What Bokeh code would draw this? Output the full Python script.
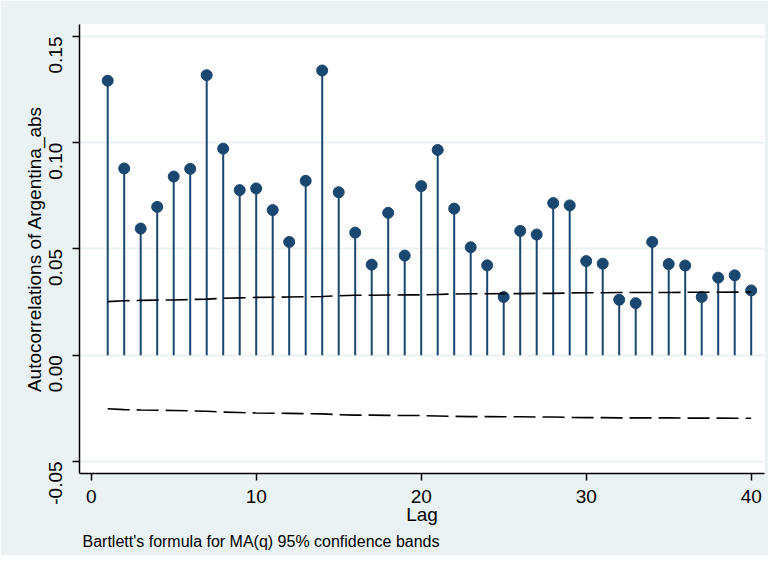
import math
from bokeh.plotting import figure
from bokeh.models import Range1d, FixedTicker, Title
from bokeh.embed import file_html
from bokeh.resources import INLINE

lags = list(range(1, 41))
acf = [0.1292, 0.0879, 0.0596, 0.0698, 0.0841, 0.0877, 0.1318, 0.0972, 0.0777, 0.0785,
       0.0683, 0.0533, 0.0821, 0.1340, 0.0767, 0.0577, 0.0426, 0.0670, 0.0469, 0.0796,
       0.0966, 0.0690, 0.0508, 0.0423, 0.0274, 0.0585, 0.0568, 0.0716, 0.0705, 0.0443,
       0.0431, 0.0261, 0.0245, 0.0533, 0.0429, 0.0422, 0.0274, 0.0365, 0.0376, 0.0305]
band = [0.0252, 0.0256, 0.0258, 0.0259, 0.0260, 0.0262, 0.0264, 0.0268, 0.0270, 0.0272,
        0.0273, 0.0274, 0.0275, 0.0276, 0.0280, 0.0282, 0.0282, 0.0283, 0.0284, 0.0284,
        0.0286, 0.0288, 0.0289, 0.0289, 0.0290, 0.0290, 0.0291, 0.0291, 0.0293, 0.0294,
        0.0294, 0.0295, 0.0295, 0.0295, 0.0295, 0.0296, 0.0296, 0.0296, 0.0297, 0.0297]
band_low = [-b for b in band]
y_ticks = [-0.05, 0.0, 0.05, 0.10, 0.15]
y_tick_labels = ["-0.05", "0.00", "0.05", "0.10", "0.15"]
x_ticks = [0, 10, 20, 30, 40]
x_tick_labels = ["0", "10", "20", "30", "40"]

FONT = "Liberation Sans"
NAVY = "#1A476F"
BG = "#EAF2F3"

p = figure(width=768, height=555, output_backend="svg", toolbar_location=None,
           x_range=Range1d(-0.709, 40.806), y_range=Range1d(-0.05568, 0.15565),
           min_border_left=79, min_border_right=4, min_border_top=24, min_border_bottom=82)
p.border_fill_color = BG
p.background_fill_color = "white"
p.outline_line_color = None

p.segment(x0=lags, y0=[0] * len(lags), x1=lags, y1=acf, line_color=NAVY, line_width=2)
p.scatter(x=lags, y=acf, size=11, fill_color=NAVY, line_color=NAVY)
p.line(x=lags, y=band, line_color="black", line_width=1.6, line_dash="22 7")
p.line(x=lags, y=band_low, line_color="black", line_width=1.6, line_dash="22 7")

p.xgrid.visible = False
p.ygrid.grid_line_color = BG
p.ygrid.grid_line_width = 2

for ax in (p.xaxis[0], p.yaxis[0]):
    ax.axis_line_color = "black"
    ax.axis_line_width = 1.5
    ax.major_tick_line_color = "black"
    ax.major_tick_line_width = 1.5
    ax.major_tick_out = 7
    ax.major_tick_in = 0
    ax.minor_tick_line_color = None
    ax.major_label_text_font = FONT
    ax.major_label_text_font_size = "19px"
    ax.major_label_text_color = "black"
    ax.axis_label_text_font = FONT
    ax.axis_label_text_font_size = "19px"
    ax.axis_label_text_font_style = "normal"
    ax.axis_label_text_color = "black"

p.xaxis[0].ticker = FixedTicker(ticks=x_ticks)
p.xaxis[0].major_label_overrides = dict(zip(x_ticks, x_tick_labels))
p.xaxis[0].axis_label = "Lag"
p.xaxis[0].major_label_standoff = 9
p.xaxis[0].axis_label_standoff = -2

p.yaxis[0].ticker = FixedTicker(ticks=y_ticks)
p.yaxis[0].major_label_overrides = dict(zip(y_ticks, y_tick_labels))
p.yaxis[0].major_label_orientation = math.pi / 2
p.yaxis[0].axis_label = "Autocorrelations of Argentina_abs"
p.yaxis[0].major_label_standoff = 17
p.yaxis[0].axis_label_standoff = -5

note = Title(text="Bartlett's formula for MA(q) 95% confidence bands", align="left",
             text_font=FONT, text_font_size="16px", text_font_style="normal",
             text_color="black", offset=3, standoff=6)
p.add_layout(note, "below")

open("out.html", "w").write(file_html(p, INLINE))
